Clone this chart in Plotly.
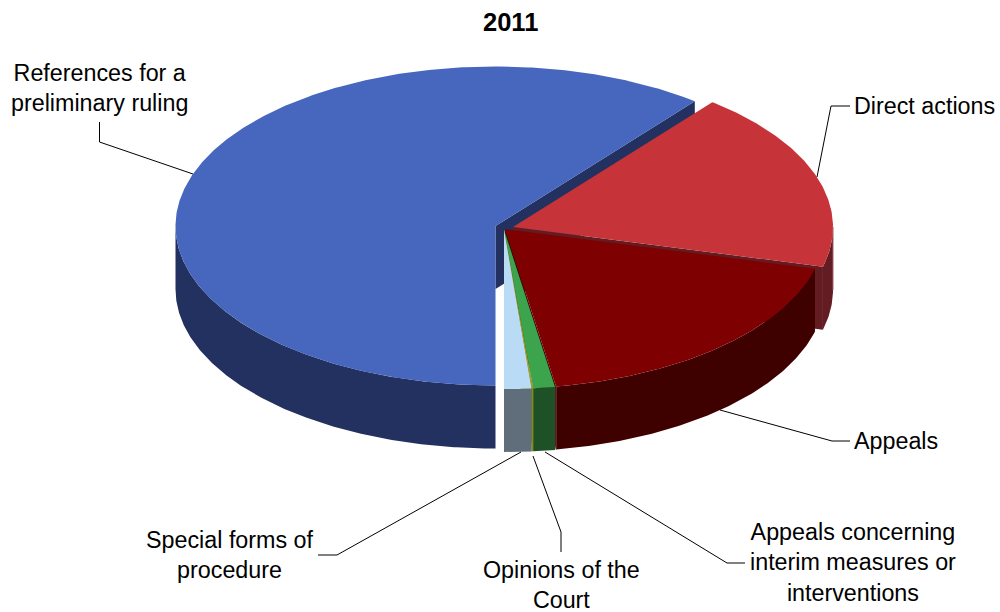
import numpy as np
import plotly.graph_objects as go

# ---- data (percentages) ----
categories = ["References for a preliminary ruling", "Direct actions", "Appeals",
              "Appeals concerning interim measures or interventions",
              "Opinions of the Court", "Special forms of procedure"]
values = [60.7, 18.3, 18.45, 1.1, 0.08, 1.37]
title_text = "2011"

# ---- styles and layout ----
top_colors = ["#4766BE", "#C63338", "#7F0000", "#3CA44C", "#A8A020", "#B9DBF5"]
wall_colors = ["#22315F", "#631C22", "#3F0000", "#1E5226", "#8A8A10", "#5F6E7A"]
centers = [(495.5, 226), (513, 227), (505, 229), (504, 229.5), (504, 229.5), (504, 229.5)]
RX, RY, DEPTH = 320, 159.5, 63
START = 180.0

labels = [
    ("References for a<br>preliminary ruling", 99.5, 88, "center"),
    ("Direct actions", 852, 106, "left"),
    ("Appeals", 852, 441, "left"),
    ("Appeals concerning<br>interim measures or<br>interventions", 853, 562, "center"),
    ("Opinions of the<br>Court", 561, 585, "center"),
    ("Special forms of<br>procedure", 230, 555, "center"),
]
leaders = [
    ([99.5, 99.5, 193], [122, 142, 174]),
    ([850, 831, 817], [106, 106, 177]),
    ([850, 832, 720], [441, 441, 410]),
    ([745, 727, 545], [563, 563, 452]),
    ([561, 561, 533], [552, 532, 456]),
    ([318, 337, 521], [555, 555, 452]),
]


def rim(c, t0, t1, n=None):
    n = n or max(2, int(abs(t1 - t0)) * 2 + 2)
    t = np.radians(np.linspace(t0, t1, n))
    return c[0] + RX * np.sin(t), c[1] - RY * np.cos(t)


def poly(fig, xs, ys, color):
    fig.add_trace(go.Scatter(x=list(xs), y=list(ys), mode="lines", fill="toself",
                             fillcolor=color, line=dict(width=0), hoverinfo="skip",
                             showlegend=False))


def edge(fig, x, y, color):
    fig.add_trace(go.Scatter(x=[x, x], y=[y, y + DEPTH], mode="lines",
                             line=dict(color=color, width=1), hoverinfo="skip", showlegend=False))


fig = go.Figure()
total = sum(values)
edges = START + np.cumsum([0] + values) * 360.0 / total
edge_tints = {1: "#A06066", 2: "#7A4048"}

for i, c in enumerate(centers):
    t0, t1 = edges[i], edges[i + 1]
    if t0 >= 360:
        t0, t1 = t0 - 360, t1 - 360
    # cut face at the clockwise end of the slice
    xe, ye = rim(c, t1, t1, 2)
    poly(fig, [c[0], xe[0], xe[0], c[0], c[0]],
         [c[1], ye[0], ye[0] + DEPTH, c[1] + DEPTH, c[1]], wall_colors[i])
    # outer wall, only the part turned towards the viewer
    a, b = max(t0, 90), min(t1, 270)
    if b > a:
        xw, yw = rim(c, a, b)
        poly(fig, np.r_[xw, xw[::-1], xw[0]], np.r_[yw, yw[::-1] + DEPTH, yw[0]], wall_colors[i])
        if i in edge_tints:
            edge(fig, xw[-1] if i == 2 else xw[0], yw[-1] if i == 2 else yw[0], edge_tints[i])
    # top
    xt, yt = rim(c, t0, t1)
    poly(fig, np.r_[c[0], xt, c[0]], np.r_[c[1], yt, c[1]], top_colors[i])

for lx, ly in leaders:
    fig.add_trace(go.Scatter(x=lx, y=ly, mode="lines", line=dict(color="#000000", width=1),
                             hoverinfo="skip", showlegend=False))

FONT = "Liberation Sans, Arial, sans-serif"
for text, x, y, align in labels:
    fig.add_annotation(x=x, y=y, xref="x", yref="y", text=text, showarrow=False,
                       xanchor=align, yanchor="middle", align=align,
                       font=dict(family=FONT, size=23.3, color="#000000"))
fig.add_annotation(x=510, y=22, xref="x", yref="y", text="<b>%s</b>" % title_text, showarrow=False,
                   xanchor="center", yanchor="middle", font=dict(family=FONT, size=25.5, color="#000000"))

fig.update_layout(width=1000, height=612, margin=dict(l=0, r=0, t=0, b=0),
                  paper_bgcolor="white", plot_bgcolor="white", showlegend=False,
                  xaxis=dict(range=[0, 1000], visible=False, fixedrange=True),
                  yaxis=dict(range=[612, 0], visible=False, fixedrange=True))
fig.write_html("out.html", config=dict(displayModeBar=False),
               post_script="document.body.style.margin='0';document.body.style.overflow='hidden';")
